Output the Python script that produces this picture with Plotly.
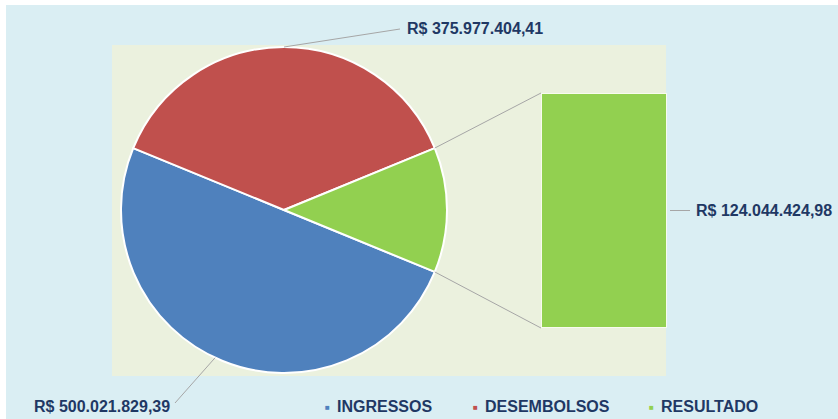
"""
Pie-of-bar chart: ingressos x desembolsos, with the resultado slice expanded into a bar.
"""

import math

import plotly.graph_objects as go

W, H = 838, 419

categories = ["INGRESSOS", "DESEMBOLSOS", "RESULTADO"]
values = [500021829.39, 375977404.41, 124044424.98]
value_labels = ["R$ 500.021.829,39", "R$ 375.977.404,41", "R$ 124.044.424,98"]
colors = ["#4F81BD", "#C0504D", "#92D050"]

# pie geometry (pixels)
CX, CY, R = 284, 210, 163
# bar box (pixels)
BAR_X0, BAR_X1, BAR_Y0, BAR_Y1 = 541, 667, 93, 328

LABEL_COLOR = "#1F3864"
LINE_COLOR = "#A6A6A6"
FONT = "Liberation Sans, Arial, sans-serif"


def fx(x):
    return x / W


def fy(y):
    return 1 - y / H


total = sum(values)
green_deg = values[2] / total * 360

fig = go.Figure()

# pie: clockwise, green slice centred on 3 o'clock
fig.add_trace(
    go.Pie(
        labels=categories,
        values=values,
        sort=False,
        direction="clockwise",
        rotation=90 + green_deg / 2,
        marker={"colors": colors, "line": {"color": "white", "width": 2}},
        textinfo="none",
        showlegend=False,
        domain={"x": [fx(CX - R), fx(CX + R)], "y": [fy(CY + R), fy(CY - R)]},
    )
)

# secondary bar for RESULTADO
fig.add_trace(
    go.Bar(
        x=[categories[2]],
        y=[values[2]],
        width=1,
        marker={"color": colors[2], "line": {"color": "#F8FBEF", "width": 2}},
        showlegend=False,
    )
)

shapes = [
    # chart area
    dict(type="rect", xref="paper", yref="paper", x0=fx(6), x1=1, y0=0, y1=fy(5),
         fillcolor="#DAEEF3", line={"width": 0}, layer="below"),
    # plot area
    dict(type="rect", xref="paper", yref="paper", x0=fx(112), x1=fx(666), y0=fy(376), y1=fy(45),
         fillcolor="#EBF1DE", line={"width": 0}, layer="below"),
]


def pie_point(angle_deg):
    a = math.radians(angle_deg)
    return CX + R * math.cos(a), CY - R * math.sin(a)


def seg(x0, y0, x1, y1):
    return dict(type="line", xref="paper", yref="paper", x0=fx(x0), y0=fy(y0), x1=fx(x1), y1=fy(y1),
                line={"color": LINE_COLOR, "width": 1})


# connectors from green slice to bar
gx, gy = pie_point(green_deg / 2)
shapes.append(seg(gx, gy, BAR_X0, BAR_Y0))
gx, gy = pie_point(-green_deg / 2)
shapes.append(seg(gx, gy, BAR_X0, BAR_Y1))

# leader lines for labels
px, py = pie_point(90)
shapes.append(seg(px, py, 400, 29))
px, py = pie_point(245)
shapes.append(seg(px, py, 175, 403))
bar_mid = (BAR_Y0 + BAR_Y1) / 2
shapes.append(seg(BAR_X1 + 3, bar_mid, 690, bar_mid))

label_font = {"family": FONT, "size": 16, "color": LABEL_COLOR, "weight": "bold"}
annotations = [
    dict(x=fx(405), y=fy(28), text=value_labels[1], xanchor="left", yanchor="middle"),
    dict(x=fx(172), y=fy(406), text=value_labels[0], xanchor="right", yanchor="middle"),
    dict(x=fx(694), y=fy(bar_mid), text=value_labels[2], xanchor="left", yanchor="middle"),
]
for a in annotations:
    a.update(xref="paper", yref="paper", showarrow=False, font=label_font)

# legend (marker square + text)
legend_sq = [327, 475, 651]
legend_tx = [335, 483, 659]
for cat, col, sx, tx in zip(categories, colors, legend_sq, legend_tx):
    annotations.append(
        dict(x=fx(sx), y=fy(407), xref="paper", yref="paper", showarrow=False,
             xanchor="center", yanchor="middle", text="■",
             font={"family": FONT, "size": 8, "color": col})
    )
    annotations.append(
        dict(x=fx(tx), y=fy(406), xref="paper", yref="paper", showarrow=False,
             xanchor="left", yanchor="middle", text=cat, font=label_font)
    )

fig.update_layout(
    width=W,
    height=H,
    margin={"l": 0, "r": 0, "t": 0, "b": 0},
    paper_bgcolor="white",
    plot_bgcolor="rgba(0,0,0,0)",
    bargap=0,
    xaxis={"domain": [fx(BAR_X0), fx(BAR_X1)], "range": [-0.5, 0.5], "visible": False},
    yaxis={"domain": [fy(BAR_Y1), fy(BAR_Y0)], "range": [0, values[2]], "visible": False},
    shapes=shapes,
    annotations=annotations,
)

fig.write_html(
    "out.html",
    config={"displayModeBar": False},
    post_script="document.body.style.margin = '0';",
)
